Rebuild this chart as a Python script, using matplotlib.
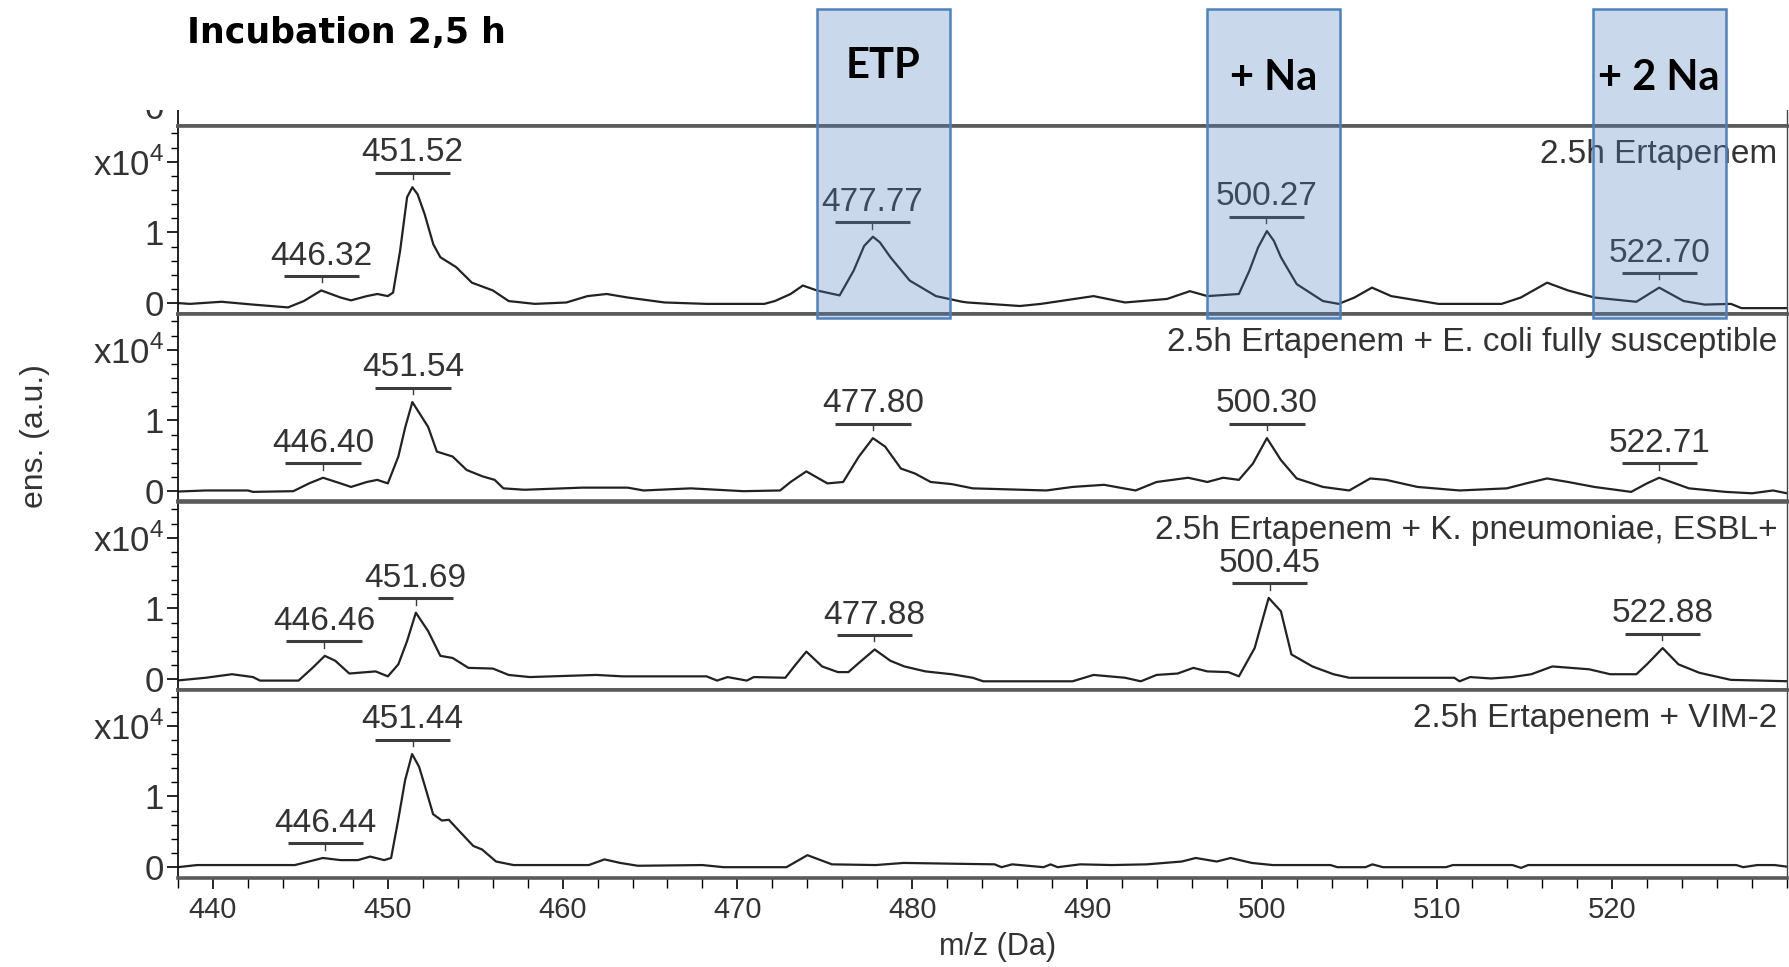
import numpy as np
import matplotlib.pyplot as plt
from matplotlib.patches import Rectangle
from matplotlib.transforms import blended_transform_factory

plt.rcParams['font.family'] = ['Liberation Sans', 'DejaVu Sans']
plt.rcParams['mathtext.fontset'] = 'custom'
plt.rcParams['mathtext.rm'] = 'Liberation Sans'

# spectra, intensity in units of 1e4
mz_p1 = [437.6, 438.8, 440.6, 442.4, 444.4, 445.3, 446.3, 447.4, 448.0, 448.9, 449.5, 450.1,
         450.4, 450.8, 451.2, 451.5, 451.8, 452.2, 452.7, 453.1, 454.0, 454.9, 456.1, 457.0,
         458.5, 460.3, 461.5, 462.6, 463.8, 465.9, 468.3, 471.6, 472.2, 473.1, 473.8, 474.6,
         475.9, 476.7, 477.3, 477.8, 478.2, 478.8, 479.9, 481.4, 482.9, 483.2, 486.2, 487.4,
         490.4, 492.2, 494.6, 495.9, 496.9, 498.7, 499.3, 499.8, 500.3, 500.7, 501.1, 502.0,
         503.5, 504.4, 505.3, 506.3, 507.4, 510.1, 513.7, 514.8, 516.3, 517.5, 519.0, 521.4,
         522.7, 524.1, 525.3, 526.8, 527.4, 530.2]
int_p1 = [0.01, -0.01, 0.02, -0.02, -0.06, 0.03, 0.18, 0.08, 0.04, 0.10, 0.13, 0.10,
          0.15, 0.74, 1.50, 1.64, 1.54, 1.26, 0.83, 0.65, 0.51, 0.29, 0.18, 0.03,
          -0.01, 0.01, 0.10, 0.13, 0.08, 0.01, -0.01, -0.01, 0.03, 0.13, 0.25, 0.18,
          0.11, 0.46, 0.81, 0.94, 0.86, 0.65, 0.32, 0.10, 0.02, 0.01, -0.04, -0.01,
          0.10, 0.01, 0.06, 0.17, 0.10, 0.13, 0.46, 0.79, 1.02, 0.88, 0.65, 0.27,
          0.03, -0.01, 0.08, 0.22, 0.10, -0.01, -0.01, 0.08, 0.29, 0.18, 0.08, 0.02,
          0.22, 0.03, -0.02, -0.01, -0.07, -0.07]

mz_p2 = [437.6, 439.7, 442.1, 442.4, 444.7, 445.6, 446.4, 447.4, 448.0, 448.9, 449.5, 450.1,
         450.7, 451.1, 451.5, 452.4, 452.9, 453.8, 454.6, 455.5, 456.2, 456.7, 457.9, 461.2,
         463.8, 464.7, 467.4, 470.4, 472.5, 473.1, 474.0, 475.2, 476.1, 477.0, 477.8, 478.5,
         479.4, 480.2, 481.1, 482.3, 483.5, 487.7, 489.2, 491.0, 492.8, 494.0, 495.8, 496.9,
         497.8, 498.7, 499.5, 500.3, 501.1, 502.0, 503.5, 505.0, 506.2, 507.1, 508.9, 511.3,
         514.0, 515.1, 516.3, 517.5, 519.0, 521.1, 522.0, 522.7, 523.5, 524.4, 526.5, 528.0,
         529.2, 530.2]
int_p2 = [-0.01, 0.01, 0.01, -0.01, 0.00, 0.11, 0.19, 0.11, 0.06, 0.13, 0.16, 0.11,
          0.49, 0.91, 1.26, 0.91, 0.56, 0.49, 0.30, 0.21, 0.16, 0.04, 0.02, 0.05,
          0.05, 0.01, 0.04, 0.00, 0.01, 0.13, 0.28, 0.11, 0.13, 0.49, 0.75, 0.63,
          0.32, 0.25, 0.13, 0.10, 0.04, 0.01, 0.06, 0.09, 0.01, 0.13, 0.19, 0.13,
          0.19, 0.16, 0.39, 0.75, 0.44, 0.18, 0.06, 0.01, 0.18, 0.16, 0.06, 0.01,
          0.04, 0.11, 0.18, 0.13, 0.06, -0.01, 0.11, 0.19, 0.12, 0.04, -0.01, -0.03,
          0.01, -0.04]

mz_p3 = [437.6, 439.7, 441.2, 442.4, 442.8, 445.0, 445.8, 446.5, 447.1, 447.9, 448.9, 449.4,
         449.8, 450.1, 450.7, 451.2, 451.7, 452.4, 453.1, 453.8, 454.7, 456.1, 457.0, 458.2,
         462.0, 463.5, 468.3, 468.9, 469.5, 470.6, 471.0, 472.8, 473.4, 474.0, 474.9, 475.8,
         476.4, 477.0, 477.9, 478.8, 479.6, 480.8, 482.3, 483.5, 484.1, 489.2, 490.4, 492.2,
         493.1, 494.0, 495.2, 496.1, 496.9, 498.1, 498.7, 499.6, 500.4, 501.1, 501.7, 502.9,
         504.1, 505.0, 511.0, 511.3, 511.9, 513.1, 514.3, 515.4, 516.6, 518.7, 519.9, 521.4,
         522.0, 522.9, 523.8, 525.0, 526.8, 530.2]
int_p3 = [-0.03, 0.02, 0.07, 0.03, -0.02, -0.02, 0.16, 0.33, 0.26, 0.08, 0.10, 0.11,
          0.07, 0.04, 0.21, 0.54, 0.94, 0.68, 0.33, 0.30, 0.16, 0.15, 0.06, 0.03,
          0.06, 0.04, 0.04, -0.02, 0.03, -0.02, 0.03, 0.02, 0.21, 0.39, 0.18, 0.10,
          0.10, 0.23, 0.42, 0.26, 0.18, 0.11, 0.07, 0.02, -0.03, -0.03, 0.06, 0.02,
          -0.03, 0.06, 0.08, 0.16, 0.11, 0.10, 0.04, 0.44, 1.15, 0.96, 0.35, 0.18,
          0.07, 0.02, 0.02, -0.03, 0.03, 0.01, 0.03, 0.07, 0.18, 0.14, 0.07, 0.07,
          0.21, 0.44, 0.21, 0.09, -0.01, -0.03]

mz_p4 = [438.0, 439.1, 444.7, 445.5, 446.3, 447.3, 448.3, 449.0, 449.8, 450.2, 450.6, 451.0,
         451.4, 451.8, 452.2, 452.6, 453.1, 453.5, 454.1, 454.9, 455.4, 456.2, 457.2, 461.5,
         462.4, 463.3, 464.3, 468.0, 469.2, 472.8, 474.0, 475.4, 477.9, 479.5, 484.7, 485.1,
         485.7, 487.5, 487.9, 488.3, 489.6, 491.4, 493.4, 495.4, 496.2, 497.4, 498.2, 499.4,
         500.6, 503.9, 504.3, 505.9, 506.3, 506.9, 510.5, 510.9, 514.3, 514.8, 515.2, 527.1,
         527.5, 528.3, 529.3, 530.2]
int_p4 = [0.00, 0.03, 0.03, 0.08, 0.13, 0.10, 0.10, 0.15, 0.10, 0.13, 0.66, 1.23,
          1.60, 1.42, 1.09, 0.75, 0.66, 0.67, 0.51, 0.30, 0.25, 0.08, 0.03, 0.03,
          0.11, 0.06, 0.02, 0.03, 0.00, 0.00, 0.17, 0.04, 0.03, 0.06, 0.04, 0.00,
          0.04, 0.00, 0.04, 0.00, 0.04, 0.03, 0.04, 0.08, 0.13, 0.08, 0.13, 0.06,
          0.03, 0.03, 0.00, 0.00, 0.04, 0.00, 0.00, 0.03, 0.03, -0.01, 0.03, 0.03,
          0.00, 0.03, 0.03, 0.00]

peaks_p1 = [446.32, 451.52, 477.77, 500.27, 522.70]
peaks_p2 = [446.40, 451.54, 477.80, 500.30, 522.71]
peaks_p3 = [446.46, 451.69, 477.88, 500.45, 522.88]
peaks_p4 = [446.44, 451.44]

titles = ['2.5h Ertapenem',
          '2.5h Ertapenem + E. coli fully susceptible',
          '2.5h Ertapenem + K. pneumoniae, ESBL+',
          '2.5h Ertapenem + VIM-2']

box_names = ['ETP', '+ Na', '+ 2 Na']
box_lo = [474.6, 496.9, 518.9]
box_hi = [482.2, 504.5, 526.5]

xticks = [440, 450, 460, 470, 480, 490, 500, 510, 520]

W, H = 1789, 967
fig = plt.figure(figsize=(W / 100, H / 100), dpi=100)

left = 177.7 / W
width = (1787 - 177.7) / W
ph = 188 / H
bot = 1 - 877.5 / H
ink = '#222222'
sep = '#5a5a5a'


def style_axis(ax, ylo):
    ax.set_xlim(438.1, 530.0)
    ax.set_ylim(ylo, ylo + 188 / 70.7)
    for s in ['top', 'bottom']:
        ax.spines[s].set_linewidth(2.6)
        ax.spines[s].set_color(sep)
    ax.spines['left'].set_linewidth(1.3)
    ax.spines['left'].set_color('#111111')
    ax.spines['right'].set_linewidth(1.0)
    ax.spines['right'].set_color('#444444')
    ax.set_yticks(np.arange(0, 2.6, 0.2), minor=True)
    ax.tick_params(axis='y', which='major', direction='out', length=8, width=1.2,
                   labelsize=25, labelcolor='#333333', pad=2)
    ax.tick_params(axis='y', which='minor', direction='out', length=5, width=1.0)


# cut-off panel above the first one
ax0 = fig.add_axes([left, 1 - 125.5 / H, width, ph])
style_axis(ax0, -0.28)
ax0.set_yticks([0])
ax0.set_yticklabels(['0'])
ax0.set_xticks([])

axes = []
for i in range(4):
    ax = fig.add_axes([left, bot + (3 - i) * ph, width, ph])
    style_axis(ax, -0.146)
    axes.append(ax)

data = [(mz_p1, int_p1, peaks_p1), (mz_p2, int_p2, peaks_p2),
        (mz_p3, int_p3, peaks_p3), (mz_p4, int_p4, peaks_p4)]

for ax, (mz, inten, peaks), title in zip(axes, data, titles):
    mz = np.array(mz)
    inten = np.array(inten)
    ax.plot(mz, inten, color=ink, lw=1.6)
    for p in peaks:
        top = inten[np.abs(mz - p) < 0.6].max()
        bar = top + 0.205
        ax.plot([p - 2.15, p + 2.15], [bar, bar], color='#3c3c3c', lw=2.2, solid_capstyle='butt')
        ax.plot([p, p], [bar, bar - 0.09], color='#3c3c3c', lw=1.0)
        ax.text(p, bar + 0.16, f'{p:.2f}', ha='center', va='baseline',
                fontsize=24, color='#333333')
    ax.text(0.994, 1 - 29 / 188, title, transform=ax.transAxes, ha='right',
            va='center', fontsize=24, color='#333333')
    ax.set_yticks([0, 1, 2])
    ax.set_yticklabels(['0', '1', 'x10$^{\\mathregular{4}}$'])

for ax in axes[:3]:
    ax.set_xticks([])
ax4 = axes[3]
ax4.set_xticks(xticks)
ax4.set_xticks(np.arange(438, 531, 2), minor=True)
ax4.tick_params(axis='x', which='major', direction='out', length=8, width=1.2,
                labelsize=21, labelcolor='#333333', pad=5)
ax4.tick_params(axis='x', which='minor', direction='out', length=7, width=1.0)

fig.text(998 / W, 1 - 947 / H, 'm/z (Da)', ha='center', va='center', fontsize=22,
         color='#333333')
fig.text(35 / W, 1 - 436 / H, 'ens. (a.u.)', rotation=90, ha='center', va='center',
         fontsize=23, color='#333333')

# white band hiding the rest of the panel above
fig.add_artist(Rectangle((0, 1 - 110 / H), 1, 110 / H, transform=fig.transFigure,
                         facecolor='white', edgecolor='none', zorder=1))

fig.text(187 / W, 1 - 43 / H, 'Incubation 2,5 h', fontfamily='DejaVu Sans',
         fontweight='bold', fontsize=25, ha='left', va='baseline', zorder=3)

trans = blended_transform_factory(axes[0].transData, fig.transFigure)
label_base = [78, 90, 90]
for lo, hi, name, yb in zip(box_lo, box_hi, box_names, label_base):
    r = Rectangle((lo, 1 - 318 / H), hi - lo, (318 - 9) / H, transform=trans,
                  facecolor=(0.31, 0.506, 0.74, 0.30), edgecolor='#4f81bd', lw=1.8, zorder=4)
    fig.add_artist(r)
    fig.text((lo + hi) / 2, 1 - yb / H, name, transform=trans, ha='center', va='baseline',
             fontfamily='Lato', fontweight='bold', fontsize=30, color='black', zorder=5)

fig.savefig('out.png', dpi=100)
